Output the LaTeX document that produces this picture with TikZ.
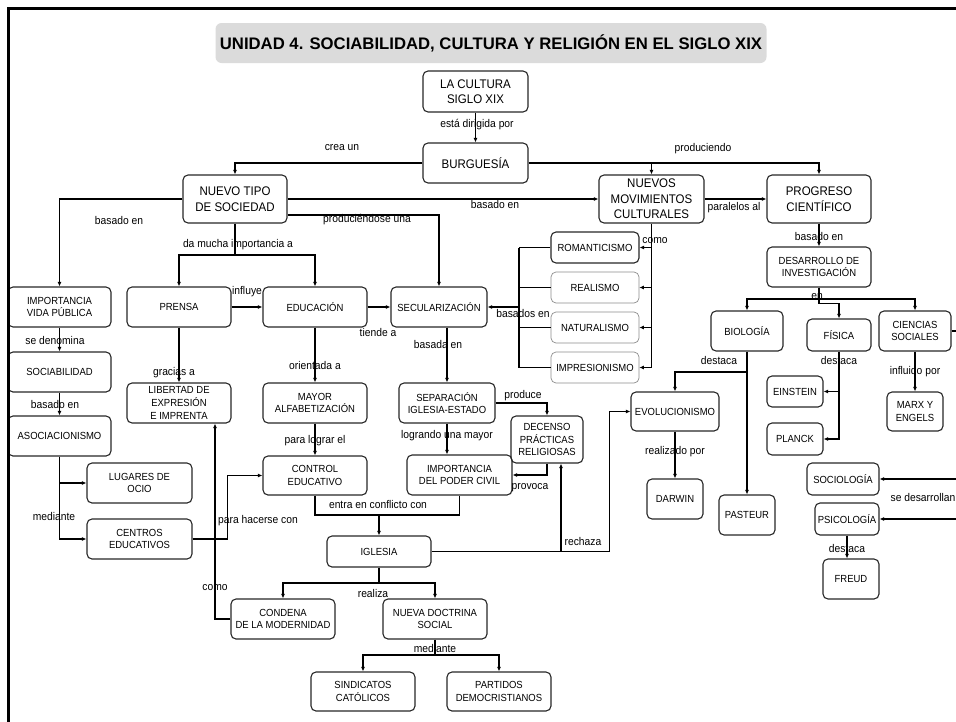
\documentclass[tikz,border=0pt]{standalone}
\usepackage{fontspec}
\setmainfont{Liberation Sans}
\newfontfamily\estrecha{Liberation Sans}[FakeStretch=0.92]
\usetikzlibrary{arrows.meta}

\begin{document}
\begin{tikzpicture}[x=1pt, y=-1pt,
        every node/.style={font=\estrecha\fontsize{10.3}{12.8}\selectfont},
        caja/.style 2 args={draw=black!85, line width=1.1pt, rounded corners=5pt, align=center, inner sep=1pt, minimum width=#1pt, minimum height=#2pt},
        grande/.style={font=\estrecha\fontsize{12.5}{15.5}\selectfont},
        tenue/.style={draw=black!45, line width=0.7pt},
        enlace/.style={font=\estrecha\fontsize{11.2}{12}\selectfont, inner sep=0pt},
        flecha/.style={-{Latex[length=4.5pt,width=4pt]}, line width=1.1pt},
        linea/.style={line width=1.1pt}]
        \useasboundingbox (0,0) rectangle (956,721);
        \clip (0,0) rectangle (956,721);

        \node[fill=black!14, rounded corners=6pt, minimum width=551pt, minimum height=40pt, font=\bfseries\fontsize{16.7}{18}\selectfont] (titulo) at (491,43) {UNIDAD 4. SOCIABILIDAD, CULTURA Y RELIGIÓN EN EL SIGLO XIX};

        \node[caja={105}{41}, grande] (cultura) at (475.5,91.5) {LA CULTURA\\SIGLO XIX};
        \node[caja={105}{40}, grande] (burguesia) at (475.5,163) {BURGUESÍA};
        \node[caja={104}{48}, grande] (ntipo) at (235,199) {NUEVO TIPO\\DE SOCIEDAD};
        \node[caja={105}{48}, grande] (nmov) at (651.5,199) {NUEVOS\\MOVIMIENTOS\\CULTURALES};
        \node[caja={104}{48}, grande] (progreso) at (819,199) {PROGRESO\\CIENTÍFICO};

        \node[caja={103}{40}] (vidapub) at (59.5,307) {IMPORTANCIA\\VIDA PÚBLICA};
        \node[caja={103}{40}] (sociab) at (59.5,372) {SOCIABILIDAD};
        \node[caja={103}{40}] (asoc) at (59.5,436) {ASOCIACIONISMO};
        \node[caja={105}{40}] (lugares) at (139.5,483) {LUGARES DE\\OCIO};
        \node[caja={105}{40}] (centros) at (139.5,539) {CENTROS\\EDUCATIVOS};

        \node[caja={104}{40}] (prensa) at (179,307) {PRENSA};
        \node[caja={104}{40}] (educ) at (315,307) {EDUCACIÓN};
        \node[caja={96}{40}] (secul) at (439,307) {SECULARIZACIÓN};
        \node[caja={104}{40}] (libertad) at (179,403) {LIBERTAD DE\\EXPRESIÓN\\E IMPRENTA};
        \node[caja={104}{40}] (alfab) at (315,403) {MAYOR\\ALFABETIZACIÓN};
        \node[caja={96}{40}] (separ) at (447,403) {SEPARACIÓN\\IGLESIA-ESTADO};
        \node[caja={104}{39}] (control) at (315,475.5) {CONTROL\\EDUCATIVO};
        \node[caja={105}{40}] (poder) at (459.5,475) {IMPORTANCIA\\DEL PODER CIVIL};
        \node[caja={72}{47}] (decenso) at (547,439.5) {DECENSO\\PRÁCTICAS\\RELIGIOSAS};
        \node[caja={104}{31}] (iglesia) at (379,551.5) {IGLESIA};
        \node[caja={104}{40}] (condena) at (283,619) {CONDENA\\DE LA MODERNIDAD};
        \node[caja={104}{40}] (doctrina) at (435,619) {NUEVA DOCTRINA\\SOCIAL};
        \node[caja={104}{39}] (sindic) at (363,691.5) {SINDICATOS\\CATÓLICOS};
        \node[caja={104}{39}] (partidos) at (499,691.5) {PARTIDOS\\DEMOCRISTIANOS};

        \node[caja={88}{31}] (roman) at (595,247.5) {ROMANTICISMO};
        \node[caja={88}{31}, tenue] (realismo) at (595,287.5) {REALISMO};
        \node[caja={88}{31}, tenue] (natural) at (595,327.5) {NATURALISMO};
        \node[caja={88}{31}, tenue] (impres) at (595,367.5) {IMPRESIONISMO};

        \node[caja={104}{40}] (desarr) at (819,267) {DESARROLLO DE\\INVESTIGACIÓN};
        \node[caja={72}{40}] (biologia) at (747,331) {BIOLOGÍA};
        \node[caja={64}{32}] (fisica) at (839,335) {FÍSICA};
        \node[caja={72}{40}] (ciencias) at (915,331) {CIENCIAS\\SOCIALES};
        \node[caja={88}{39}] (evol) at (675,411.5) {EVOLUCIONISMO};
        \node[caja={56}{40}] (darwin) at (675,499) {DARWIN};
        \node[caja={56}{40}] (pasteur) at (747,515) {PASTEUR};
        \node[caja={56}{31}] (einstein) at (795,391.5) {EINSTEIN};
        \node[caja={56}{32}] (planck) at (795,439) {PLANCK};
        \node[caja={56}{39}] (marx) at (915,411.5) {MARX Y\\ENGELS};
        \node[caja={72}{32}] (sociol) at (843,479) {SOCIOLOGÍA};
        \node[caja={64}{32}] (psico) at (847,519) {PSICOLOGÍA};
        \node[caja={56}{40}] (freud) at (851,579) {FREUD};

        \coordinate (cImp) at (235,255);
        \coordinate (cBas) at (519,307);
        \coordinate (cConf) at (379,515);
        \coordinate (cDec) at ([xshift=14pt]decenso.south);
        \coordinate (cReal) at (379,583);
        \coordinate (cMed) at (435,655);
        \coordinate (cEn) at (819,299);
        \coordinate (cDest) at (747,372);
        \coordinate (cDes) at (968,331);

        \draw[flecha] (cultura) -- (burguesia);
        \draw[flecha] (burguesia.west) -| (ntipo.north);
        \draw[flecha] (burguesia.east) -| (progreso.north);
        \draw[flecha] (nmov.north |- burguesia.east) -- (nmov.north);
        \draw[flecha] (ntipo.east) -- (nmov.west);
        \draw[flecha] (nmov.east) -- (progreso.west);
        \draw[flecha] (ntipo.west) -| (vidapub.north);
        \draw[flecha] ([yshift=-16pt]ntipo.east) -| (secul.north);
        \draw[linea] (ntipo.south) -- (cImp);
        \draw[flecha] (cImp) -| (prensa.north);
        \draw[flecha] (cImp) -| (educ.north);

        \draw[flecha] (vidapub) -- (sociab);
        \draw[flecha] (sociab) -- (asoc);
        \draw[flecha] (asoc.south) |- (centros.west);
        \draw[flecha] (asoc.south |- lugares.west) -- (lugares.west);
        \draw[flecha] (centros.east) -- ++(35,0) |- (control.west);

        \draw[flecha] (prensa) -- (educ);
        \draw[flecha] (educ) -- (secul);
        \draw[flecha] (prensa) -- (libertad);
        \draw[flecha] (educ) -- (alfab);
        \draw[flecha] (alfab) -- (control);
        \draw[flecha] (separ.north |- secul.south) -- (separ.north);
        \draw[flecha] (separ.south) -- (separ.south |- poder.north);
        \draw[flecha] (separ.east) -| (decenso.north);
        \draw[flecha] (decenso.south) |- (poder.east);
        \draw[linea] (control.south) |- (cConf) -| (poder.south);
        \draw[flecha] (cConf) -- (iglesia.north);
        \draw[flecha] (iglesia.east) -| ([xshift=-21pt]evol.west) -- (evol.west);
        \draw[flecha] (iglesia.east -| cDec) -- (cDec);
        \draw[linea] (iglesia.south) -- (cReal);
        \draw[flecha] (cReal) -| (condena.north);
        \draw[flecha] (cReal) -| (doctrina.north);
        \draw[flecha] (condena.west) -| ([xshift=36pt]libertad.south);
        \draw[linea] (doctrina.south) -- (cMed);
        \draw[flecha] (cMed) -| (sindic.north);
        \draw[flecha] (cMed) -| (partidos.north);

        \draw[linea] (nmov.south) -- (nmov.south |- impres.east);
        \foreach \n in {roman,realismo,natural,impres}
            \draw[flecha] (nmov.south |- \n.east) -- (\n.east);
        \foreach \n in {roman,realismo,natural,impres}
            \draw[linea] (\n.west) -- (\n.west -| cBas);
        \draw[linea] (roman.west -| cBas) -- (impres.west -| cBas);
        \draw[flecha] (cBas) -- (secul.east);

        \draw[flecha] (progreso) -- (desarr);
        \draw[linea] (desarr.south) -- (cEn);
        \draw[flecha] (cEn) -| (biologia.north);
        \draw[flecha] (cEn) -| (ciencias.north);
        \draw[flecha] (desarr.south) -- ++(0,16) -| (fisica.north);
        \draw[flecha] (biologia) -- (pasteur);
        \draw[flecha] (cDest) -| (evol.north);
        \draw[flecha] (evol) -- (darwin);
        \draw[flecha] (fisica.south) |- (planck.east);
        \draw[flecha] (fisica.south |- einstein.east) -- (einstein.east);
        \draw[flecha] (ciencias) -- (marx);
        \draw[linea] (ciencias.east) -- (cDes) -- (cDes |- psico.east);
        \draw[flecha] (cDes |- sociol.east) -- (sociol.east);
        \draw[flecha] (cDes |- psico.east) -- (psico.east);
        \draw[flecha] (psico.south) -- (psico.south |- freud.north);

        \node[enlace] (l-dirigida) at (477,125) {está dirigida por};
        \node[enlace] (l-crea) at (342,148) {crea un};
        \node[enlace] (l-produciendo) at (703,149) {produciendo};
        \node[enlace] (l-basado1) at (119,220) {basado en};
        \node[enlace] (l-basado2) at (495,204) {basado en};
        \node[enlace] (l-produciendose) at (367,220) {produciéndose una};
        \node[enlace] (l-paralelos) at (734,208) {paralelos al};
        \node[enlace] (l-importancia) at (238,245) {da mucha importancia a};
        \node[enlace] (l-influye) at (247,292) {influye};
        \node[enlace] (l-tiende) at (378,332) {tiende a};
        \node[enlace] (l-denomina) at (55,340) {se denomina};
        \node[enlace] (l-basada) at (438,344) {basada en};
        \node[enlace] (l-orientada) at (315,365) {orientada a};
        \node[enlace] (l-gracias) at (174,373) {gracias a};
        \node[enlace] (l-basado3) at (55,404) {basado en};
        \node[enlace] (l-lograr) at (315,441) {para lograr el};
        \node[enlace] (l-logrando) at (447,436) {logrando una mayor};
        \node[enlace] (l-produce) at (523,396) {produce};
        \node[enlace] (l-provoca) at (530,488) {provoca};
        \node[enlace] (l-conflicto) at (378,504) {entra en conflicto con};
        \node[enlace] (l-mediante1) at (54,516) {mediante};
        \node[enlace] (l-hacerse) at (258,521) {para hacerse con};
        \node[enlace] (l-rechaza) at (583,541) {rechaza};
        \node[enlace] (l-como1) at (215,588) {como};
        \node[enlace] (l-realiza) at (373,593) {realiza};
        \node[enlace] (l-mediante2) at (435,648) {mediante};
        \node[enlace] (l-como2) at (655,241) {como};
        \node[enlace] (l-basados) at (523,313) {basados en};
        \node[enlace] (l-basado4) at (819,236) {basado en};
        \node[enlace] (l-en) at (817,297) {en};
        \node[enlace] (l-destaca1) at (719,360) {destaca};
        \node[enlace] (l-destaca2) at (839,360) {destaca};
        \node[enlace] (l-influido) at (915,372) {influido por};
        \node[enlace] (l-realizado) at (675,452) {realizado por};
        \node[enlace] (l-desarrollan) at (923,497) {se desarrollan};
        \node[enlace] (l-destaca3) at (847,548) {destaca};

        \draw[line width=2.8pt] (8.7,725) -- (8.7,8.7) -- (960,8.7);
    \end{tikzpicture}
\end{document}
